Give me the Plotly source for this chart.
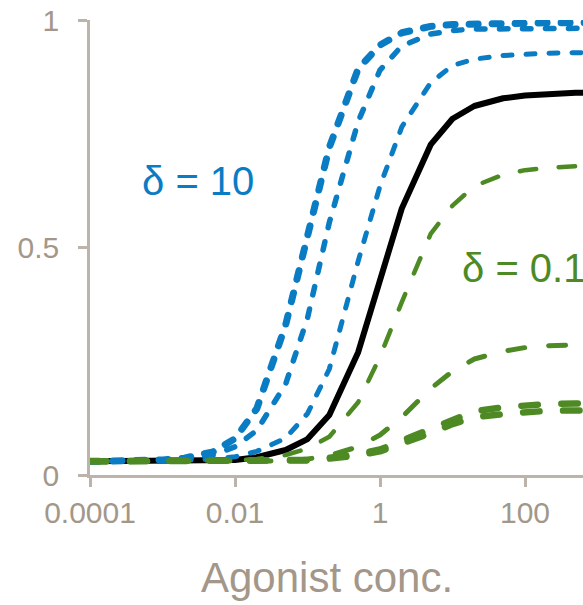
import plotly.graph_objects as go

# Agonist concentrations (sampled 1-2-5 per decade)
conc = [0.0001, 0.0002, 0.0005, 0.001, 0.002, 0.005, 0.01, 0.02, 0.05, 0.1, 0.2, 0.5,
        1, 2, 5, 10, 20, 50, 100, 200, 500, 1000]

# Response curves
black = [0.030, 0.030, 0.030, 0.030, 0.030, 0.031, 0.033, 0.039, 0.055, 0.079, 0.132, 0.270,
         0.427, 0.586, 0.726, 0.783, 0.811, 0.828, 0.834, 0.838, 0.840, 0.841]
blue1 = [0.030, 0.030, 0.031, 0.033, 0.037, 0.051, 0.080, 0.146, 0.330, 0.525, 0.720, 0.893,
         0.945, 0.972, 0.986, 0.990, 0.992, 0.993, 0.993, 0.994, 0.994, 0.994]
blue2 = [0.030, 0.030, 0.031, 0.033, 0.035, 0.044, 0.062, 0.098, 0.200, 0.345, 0.555, 0.777,
         0.890, 0.943, 0.969, 0.977, 0.980, 0.981, 0.982, 0.982, 0.982, 0.982]
blue3 = [0.030, 0.030, 0.030, 0.031, 0.032, 0.035, 0.040, 0.052, 0.081, 0.135, 0.233, 0.470,
         0.635, 0.765, 0.862, 0.900, 0.914, 0.922, 0.925, 0.927, 0.928, 0.929]
green1 = [0.030, 0.030, 0.030, 0.030, 0.030, 0.031, 0.032, 0.035, 0.044, 0.058, 0.084, 0.160,
          0.260, 0.380, 0.530, 0.592, 0.635, 0.660, 0.670, 0.675, 0.679, 0.681]
green2 = [0.030, 0.030, 0.030, 0.030, 0.030, 0.030, 0.030, 0.030, 0.031, 0.035, 0.043, 0.062,
          0.088, 0.127, 0.190, 0.228, 0.255, 0.272, 0.280, 0.284, 0.286, 0.287]
green3 = [0.030, 0.030, 0.030, 0.030, 0.030, 0.030, 0.030, 0.030, 0.031, 0.033, 0.038, 0.046,
          0.056, 0.075, 0.102, 0.122, 0.140, 0.149, 0.154, 0.156, 0.157, 0.158]
green4 = [0.030, 0.030, 0.030, 0.030, 0.030, 0.030, 0.030, 0.030, 0.031, 0.032, 0.036, 0.043,
          0.052, 0.068, 0.092, 0.112, 0.127, 0.134, 0.139, 0.141, 0.142, 0.142]

x_tickvals = [0.0001, 0.01, 1, 100]
x_ticktext = ["0.0001", "0.01", "1", "100"]
y_tickvals = [0, 0.5, 1]
y_ticktext = ["0", "0.5", "1"]

BLUE = "#0A7CC4"
GREEN = "#4D8A24"
AXIS = "#BCB3AA"
TEXT = "#A3978A"
FONT = "Liberation Sans, Arial, sans-serif"

# (values, colour, width, dash pattern drawn with round caps)
series = [
    (black, "#000000", 6, "solid"),
    (blue3, BLUE, 5, "9px,14px"),
    (blue2, BLUE, 5.5, "8.5px,14.5px"),
    (blue1, BLUE, 7, "9px,14px"),
    (green1, GREEN, 4.5, "16.5px,22.5px"),
    (green2, GREEN, 5, "17px,24px"),
    (green3, GREEN, 6.5, "16.5px,23.5px"),
    (green4, GREEN, 6.5, "16.5px,23.5px"),
]

fig = go.Figure()
for ys, col, w, dash in series:
    fig.add_trace(go.Scatter(x=conc, y=ys, mode="lines",
                             line=dict(color=col, width=w, dash=dash),
                             showlegend=False, hoverinfo="skip"))

axis_common = dict(showline=True, linecolor=AXIS, linewidth=2.5, ticks="outside",
                   ticklen=9, tickwidth=2.5, tickcolor=AXIS, showgrid=False,
                   zeroline=False, automargin=False,
                   tickfont=dict(size=30, color=TEXT, family=FONT))

fig.update_layout(
    width=583, height=605,
    margin=dict(l=90, r=0, t=20, b=130, autoexpand=False),
    paper_bgcolor="white", plot_bgcolor="white",
    font=dict(family=FONT, color=TEXT, size=30),
    xaxis=dict(type="log", range=[-4, 2.8], tickvals=x_tickvals, ticktext=x_ticktext,
               **axis_common),
    yaxis=dict(range=[0, 1], tickvals=y_tickvals, ticktext=y_ticktext,
               ticklabelstandoff=13, **axis_common),
    annotations=[
        dict(text="δ = 10", x=0.219, y=0.646, xref="paper", yref="paper",
             xanchor="center", yanchor="middle", showarrow=False,
             font=dict(size=40, color=BLUE, family=FONT)),
        dict(text="δ = 0.1", x=0.7505, y=0.455, xref="paper", yref="paper",
             xanchor="left", yanchor="middle", showarrow=False,
             font=dict(size=40, color=GREEN, family=FONT)),
        dict(text="Agonist conc.", x=0.48, y=-0.225, xref="paper", yref="paper",
             xanchor="center", yanchor="middle", showarrow=False,
             font=dict(size=42, color=TEXT, family=FONT)),
    ],
)

post = ("document.body.style.margin='0';document.body.style.overflow='hidden';"
        "var s=document.createElement('style');"
        "s.innerHTML='.js-line{stroke-linecap:round;stroke-linejoin:round;}';"
        "document.head.appendChild(s);")

fig.write_html("out.html", config={"displayModeBar": False}, post_script=post)
